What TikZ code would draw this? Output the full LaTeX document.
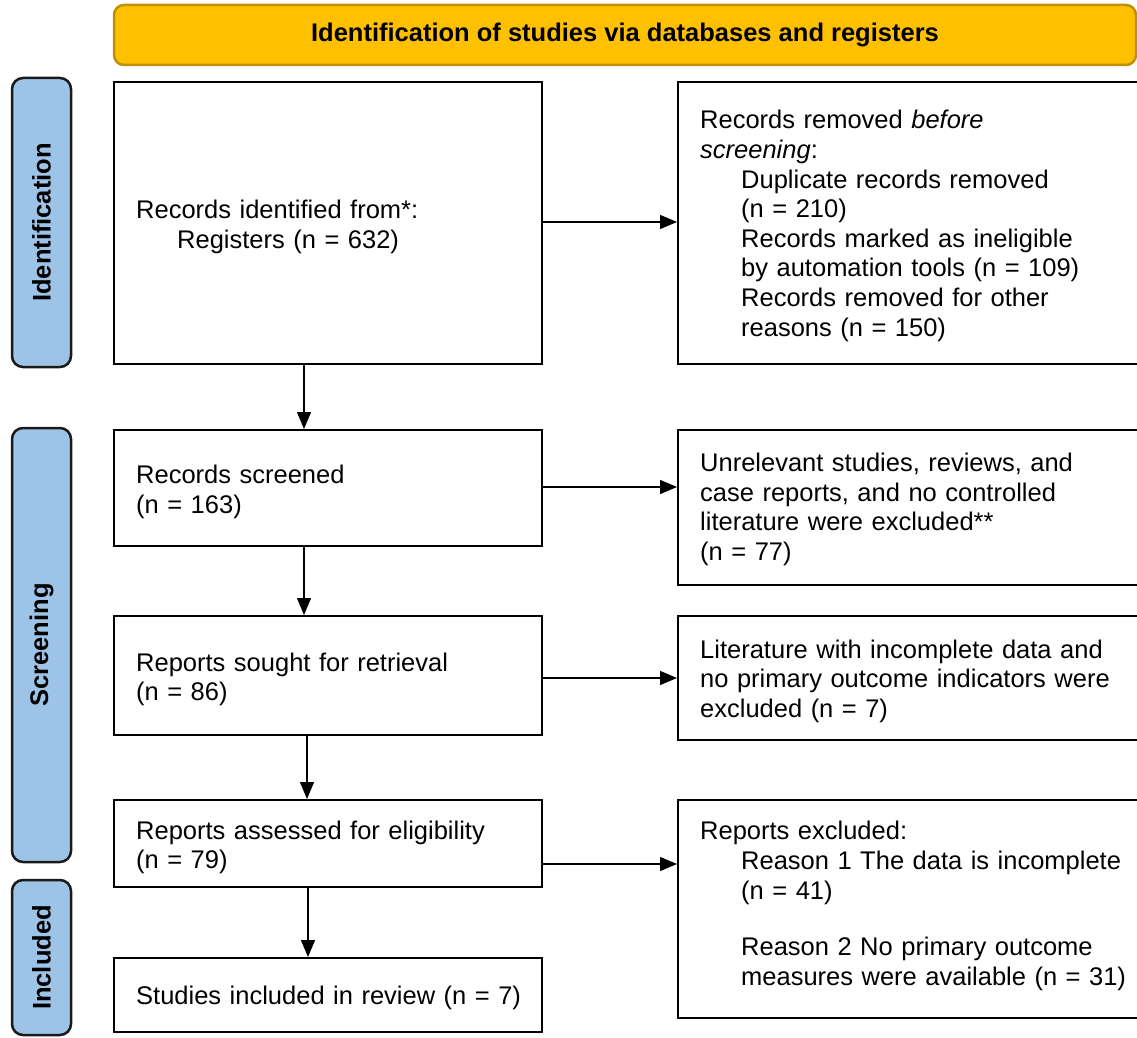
\documentclass[tikz,border=0pt]{standalone}
\usepackage{fontspec}
\setmainfont{Liberation Sans}
\usetikzlibrary{arrows.meta}
\definecolor{hdrfill}{HTML}{FFC000}
\definecolor{hdrline}{HTML}{BF9000}
\definecolor{stagefill}{HTML}{9DC3E6}
\definecolor{stageline}{HTML}{1A1A1A}
\begin{document}
\begin{tikzpicture}[x=1pt,y=-1pt,
  every node/.style={font=\fontsize{25.5}{29.6}\selectfont},
  header/.style={draw=hdrline, fill=hdrfill, line width=2.5pt, rounded corners=10pt,
    inner sep=0pt, font=\fontsize{25.5}{29.6}\selectfont\bfseries},
  stage/.style={draw=stageline, fill=stagefill, line width=2.5pt, rounded corners=11pt,
    inner sep=0pt, rotate=90, font=\fontsize{25.5}{29.6}\selectfont\bfseries},
  box/.style={draw=black, line width=2pt, fill=white, inner sep=0pt},
  lbox/.style={box, minimum width=428},
  rbox/.style={box, minimum width=480},
  txt/.style={anchor=west, inner sep=0pt, align=left, text width=430},
  arr/.style={line width=1.3pt, -{Triangle[length=17pt,width=14pt]}}]
\useasboundingbox (0,0) rectangle (1137,1038);
\clip (0,0) rectangle (1137,1038);

% header
\node[header, minimum width=1022, minimum height=60] (hdr) at (625,35)
  {Identification of studies via databases and registers};

% stage labels
\node[stage, minimum width=289, minimum height=59] (sid) at (41.5,222.5) {Identification};
\node[stage, minimum width=434, minimum height=59] (ssc) at (41.5,645) {Screening};
\node[stage, minimum width=155, minimum height=59] (sin) at (41.5,957.5) {Included};

% left column boxes
\node[lbox, minimum height=282] (b1) at (328,223) {};
\node[lbox, minimum height=116] (b2) at (328,488) {};
\node[lbox, minimum height=119] (b3) at (328,675.5) {};
\node[lbox, minimum height=87] (b4) at (328,843.5) {};
\node[lbox, minimum height=74] (b5) at (328,995) {};

% right column boxes
\node[rbox, minimum height=282] (r1) at (918,223) {};
\node[rbox, minimum height=155] (r2) at (918,507.5) {};
\node[rbox, minimum height=124] (r3) at (918,678) {};
\node[rbox, minimum height=218] (r4) at (918,909) {};

% texts
\node[txt] (b1t) at ([xshift=23pt,yshift=-4pt]b1.west)
  {Records identified from*:\\\hspace*{41pt}Registers (n = 632)};
\node[txt] (b2t) at ([xshift=23pt,yshift=-4pt]b2.west)
  {Records screened\\(n = 163)};
\node[txt] (b3t) at ([xshift=23pt,yshift=-4pt]b3.west)
  {Reports sought for retrieval\\(n = 86)};
\node[txt] (b4t) at ([xshift=23pt,yshift=-4pt]b4.west)
  {Reports assessed for eligibility\\(n = 79)};
\node[txt] (b5t) at ([xshift=23pt,yshift=-3pt]b5.west)
  {Studies included in review (n = 7)};

\node[txt] (r1t) at ([xshift=23pt,yshift=-3pt]r1.west)
  {Records removed \textit{before}\\\textit{screening}:\\
   \hspace*{41pt}Duplicate records removed\\
   \hspace*{41pt}(n = 210)\\
   \hspace*{41pt}Records marked as ineligible\\
   \hspace*{41pt}by automation tools (n = 109)\\
   \hspace*{41pt}Records removed for other\\
   \hspace*{41pt}reasons (n = 150)};
\node[txt] (r2t) at ([xshift=23pt,yshift=-2pt]r2.west)
  {Unrelevant studies, reviews, and\\case reports, and no controlled\\literature were excluded**\\(n = 77)};
\node[txt] (r3t) at ([xshift=23pt,yshift=-3pt]r3.west)
  {Literature with incomplete data and\\no primary outcome indicators were\\excluded (n = 7)};
\node[txt] (r4t) at ([xshift=23pt,yshift=3pt]r4.west)
  {Reports excluded:\\
   \hspace*{41pt}Reason 1 The data is incomplete\\
   \hspace*{41pt}(n = 41)\\[27pt]
   \hspace*{41pt}Reason 2 No primary outcome\\
   \hspace*{41pt}measures were available (n = 31)};

% arrow guide coordinates
\coordinate (vx1) at (304,0);
\coordinate (vx3) at (307,0);
\coordinate (vx4) at (308,0);
\coordinate (hy1) at (0,222);
\coordinate (hy2) at (0,487);
\coordinate (hy3) at (0,678);
\coordinate (hy4) at (0,864);

% vertical arrows
\draw[arr] (b1.south -| vx1) -- (b2.north -| vx1);
\draw[arr] (b2.south -| vx1) -- (b3.north -| vx1);
\draw[arr] (b3.south -| vx3) -- (b4.north -| vx3);
\draw[arr] (b4.south -| vx4) -- (b5.north -| vx4);

% horizontal arrows
\draw[arr] (b1.east |- hy1) -- (r1.west |- hy1);
\draw[arr] (b2.east |- hy2) -- (r2.west |- hy2);
\draw[arr] (b3.east |- hy3) -- (r3.west |- hy3);
\draw[arr] (b4.east |- hy4) -- (r4.west |- hy4);
\end{tikzpicture}
\end{document}
